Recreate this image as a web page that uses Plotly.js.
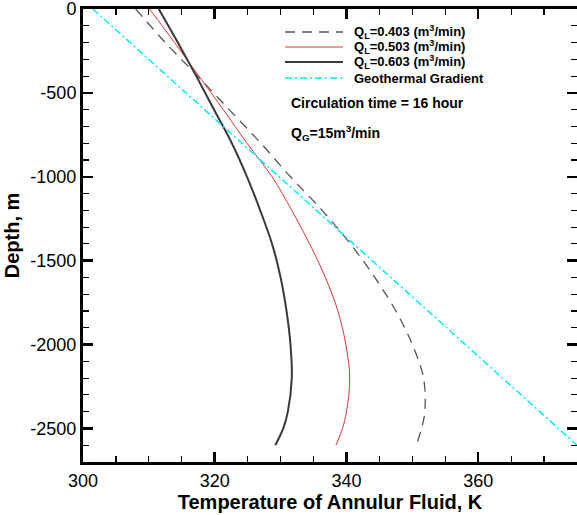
<!DOCTYPE html>
<html>
<head>
<meta charset="utf-8">
<script src="https://cdn.plot.ly/plotly-3.0.1.min.js"></script>
<style>html,body{margin:0;padding:0;background:#fff;}#chart{width:577px;height:515px;}</style>
</head>
<body>
<div id="chart"></div>
<script>
// Depths (m)
const depth = [0, -200, -400, -600, -800, -1000, -1200, -1400, -1600, -1800, -2000, -2200, -2400, -2500, -2600];
// Annulus fluid temperature (K) for each liquid rate
const tempQL0403 = [308.0, 312.5, 317.4, 322.2, 327.0, 331.5, 336.3, 340.6, 344.3, 347.5, 350.0, 351.7, 351.9, 351.4, 350.6];
const tempQL0503 = [310.1, 313.9, 317.6, 321.3, 324.9, 328.7, 331.7, 334.4, 336.8, 338.7, 339.9, 340.5, 340.0, 339.4, 338.4];
const tempQL0603 = [311.5, 314.4, 317.2, 319.9, 322.6, 324.9, 326.9, 328.7, 330.0, 330.9, 331.5, 331.7, 331.1, 330.4, 329.2];
// Geothermal gradient
const geoDepth = [0, -2600];
const geoTemp = [301.5, 375.0];

// Axis tick labels
const xTickVals = [300, 320, 340, 360];
const xTickText = ['300', '320', '340', '360'];
const yTickVals = [0, -500, -1000, -1500, -2000, -2500];
const yTickText = ['0', '-500', '-1000', '-1500', '-2000', '-2500'];

const seriesNames = [
  'Q<sub>L</sub>=0.403 (m<sup>3</sup>/min)',
  'Q<sub>L</sub>=0.503 (m<sup>3</sup>/min)',
  'Q<sub>L</sub>=0.603 (m<sup>3</sup>/min)',
  'Geothermal Gradient'
];

const font = 'Liberation Sans, Arial, Helvetica, sans-serif';
const lineStyles = [
  {color: '#555555', width: 1.3, dash: '10px,7px'},
  {color: '#e03535', width: 1},
  {color: '#3a3a3a', width: 2},
  {color: '#00f0f0', width: 1.5, dash: '7px,3px,2px,3px'}
];

const seriesX = [tempQL0403, tempQL0503, tempQL0603, geoTemp];
const seriesY = [depth, depth, depth, geoDepth];

const traces = seriesX.map((xs, i) => ({
  x: xs, y: seriesY[i], name: seriesNames[i], mode: 'lines',
  line: Object.assign({}, lineStyles[i], i < 3 ? {shape: 'spline'} : {}),
  showlegend: false
}));

// plot-area pixel helpers for the hand-made legend (paper coordinates)
const L = 83, T = 9, W = 494, H = 453;
const px = v => (v - L) / W;
const py = v => 1 - (v - T) / H;

const legendRows = [32, 47, 62, 78];
const shapes = legendRows.map((r, i) => ({
  type: 'line', xref: 'paper', yref: 'paper',
  x0: px(285), x1: px(343), y0: py(r), y1: py(r),
  line: lineStyles[i]
}));

const annotations = legendRows.map((r, i) => ({
  xref: 'paper', yref: 'paper', x: px(352), y: py(r), xanchor: 'left', yanchor: 'middle',
  text: '<b>' + seriesNames[i] + '</b>', showarrow: false,
  font: {family: font, size: 13, color: '#000'}
}));
annotations.push(
  {xref: 'paper', yref: 'paper', x: px(289), y: py(103), xanchor: 'left', yanchor: 'middle',
   text: '<b>Circulation time = 16 hour</b>', showarrow: false, font: {family: font, size: 14, color: '#000'}},
  {xref: 'paper', yref: 'paper', x: px(289), y: py(133), xanchor: 'left', yanchor: 'middle',
   text: '<b>Q<sub>G</sub>=15m<sup>3</sup>/min</b>', showarrow: false, font: {family: font, size: 14, color: '#000'}}
);

const titleFont = {family: font, size: 20, color: '#000'};
const axisCommon = {
  showline: true, linewidth: 3, linecolor: '#000', mirror: 'ticks',
  ticks: 'inside', ticklen: 10, tickwidth: 2.5, tickcolor: '#000',
  showgrid: false, zeroline: false, tickmode: 'array',
  ticklabeloverflow: 'allow',
  tickfont: {family: font, size: 18, color: '#000'}
};
const minorCommon = {ticks: 'inside', ticklen: 6, tickwidth: 1.2, tickcolor: '#000', showgrid: false};

const layout = {
  width: 577, height: 515,
  margin: {l: L, r: 577 - L - W, t: T, b: 515 - T - H},
  paper_bgcolor: '#fff', plot_bgcolor: '#fff',
  font: {family: font, color: '#000'},
  showlegend: false,
  xaxis: Object.assign({}, axisCommon, {
    range: [300, 375], tickvals: xTickVals, ticktext: xTickText,
    minor: Object.assign({}, minorCommon, {tick0: 300, dtick: 5}),
    title: {text: '<b>Temperature of Annulur Fluid, K</b>', standoff: 4, font: titleFont}
  }),
  yaxis: Object.assign({}, axisCommon, {
    range: [-2700, 0], tickvals: yTickVals, ticktext: yTickText,
    minor: Object.assign({}, minorCommon, {tick0: 0, dtick: 100}),
    title: {text: '<b>Depth, m</b>', standoff: 6, font: titleFont}
  }),
  shapes: shapes,
  annotations: annotations
};

Plotly.newPlot('chart', traces, layout, {displayModeBar: false, staticPlot: true});
</script>
</body>
</html>
